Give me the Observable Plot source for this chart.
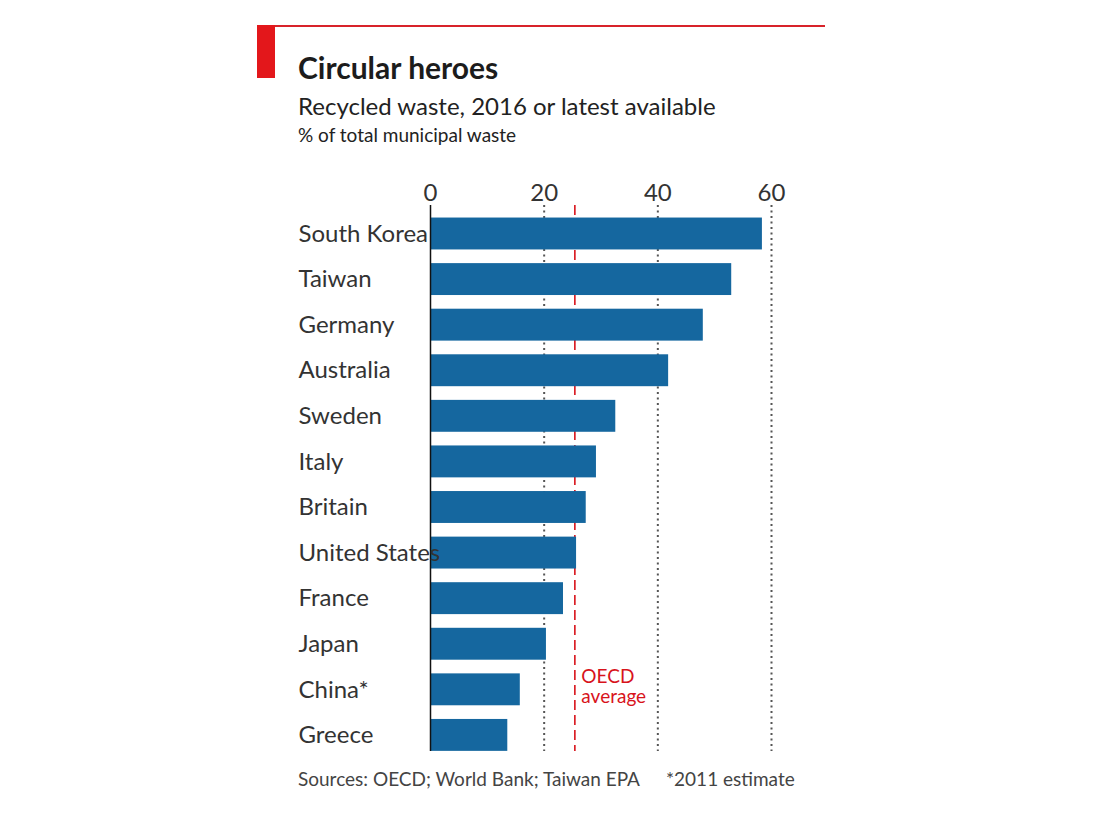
<!DOCTYPE html>
<html lang="en">
  <head>
    <meta charset="UTF-8" />
    <title>Circular heroes</title>
    <style>
      body { margin: 0; width: 1107px; height: 830px; position: relative; background: #fff; overflow: hidden;
        font-family: Lato, "Liberation Sans", sans-serif; color: #222; }
      #rule { position: absolute; left: 257px; top: 25px; width: 568px; height: 2px; background: #d8232a; }
      #tag { position: absolute; left: 257px; top: 25px; width: 18px; height: 53px; background: #e3171b; }
      header { height: 170px; }
      header div { position: absolute; left: 298px; white-space: nowrap; }
      #title { top: 49px; font-size: 30px; font-weight: bold; color: #1c1c1c; }
      #subtitle { top: 91px; font-size: 24px; }
      #unit { top: 123px; font-size: 19px; }
      footer span { position: absolute; top: 767px; font-size: 19px; color: #444; white-space: nowrap; }
      svg { display: block; }
    </style>
  </head>
  <body>
    <div id="rule"></div>
    <div id="tag"></div>
    <header>
      <div id="title">Circular heroes</div>
      <div id="subtitle">Recycled waste, 2016 or latest available</div>
      <div id="unit">% of total municipal waste</div>
    </header>
    <div id="graph"></div>
    <footer>
      <span style="left: 298px">Sources: OECD; World Bank; Taiwan EPA</span>
      <span style="left: 666px">*2011 estimate</span>
    </footer>

    <script src="https://cdn.jsdelivr.net/npm/d3@7"></script>
    <script src="https://cdn.jsdelivr.net/npm/@observablehq/plot@0.6"></script>

    <script>
      const countries = ["South Korea", "Taiwan", "Germany", "Australia", "Sweden", "Italy",
        "Britain", "United States", "France", "Japan", "China*", "Greece"];
      const recycled = [58.4, 53, 48, 41.9, 32.6, 29.2, 27.4, 25.7, 23.4, 20.4, 15.8, 13.6];
      const xTicks = [0, 20, 40, 60];
      const oecdAverage = [25.4];
      const oecdLabel = ["OECD\naverage"];

      const rows = countries.map((name, i) => ({ name, value: recycled[i] }));

      const plot = Plot.plot({
        width: 1107,
        height: 600,
        marginLeft: 430,
        marginRight: 336,
        marginTop: 35,
        marginBottom: 19,
        style: { fontFamily: 'Lato, "Liberation Sans", sans-serif', color: "#333" },
        x: { domain: [0, 60], axis: null },
        y: { domain: countries, range: [40.7, 587.7], round: false, paddingInner: 0.3, paddingOuter: 0.15, axis: null, label: null },
        marks: [
          Plot.ruleX(xTicks.slice(1), { stroke: "#555", strokeWidth: 2, strokeDasharray: "2,3.5" }),
          Plot.ruleX(oecdAverage, { stroke: "#d8131b", strokeWidth: 1.6, strokeDasharray: "10,5" }),
          Plot.barX(rows, { x: "value", y: "name", fill: "#15679f" }),
          Plot.ruleX([0], { stroke: "#111", strokeWidth: 1.5 }),
          Plot.axisX(xTicks, { anchor: "top", tickSize: 0, tickPadding: 5, fontSize: 24, label: null, fill: "#333" }),
          Plot.text(rows, { y: "name", text: "name", frameAnchor: "left", textAnchor: "start", dx: -132, fontSize: 24, fill: "#333" }),
          Plot.text(oecdLabel, { x: oecdAverage, y: () => "China*", text: (d) => d, textAnchor: "start", dx: 6.5, dy: -3, fontSize: 19, lineHeight: 1.05, fill: "#d8131b" }),
        ],
      });

      document.querySelector("#graph").append(plot);
    </script>
  </body>
</html>
